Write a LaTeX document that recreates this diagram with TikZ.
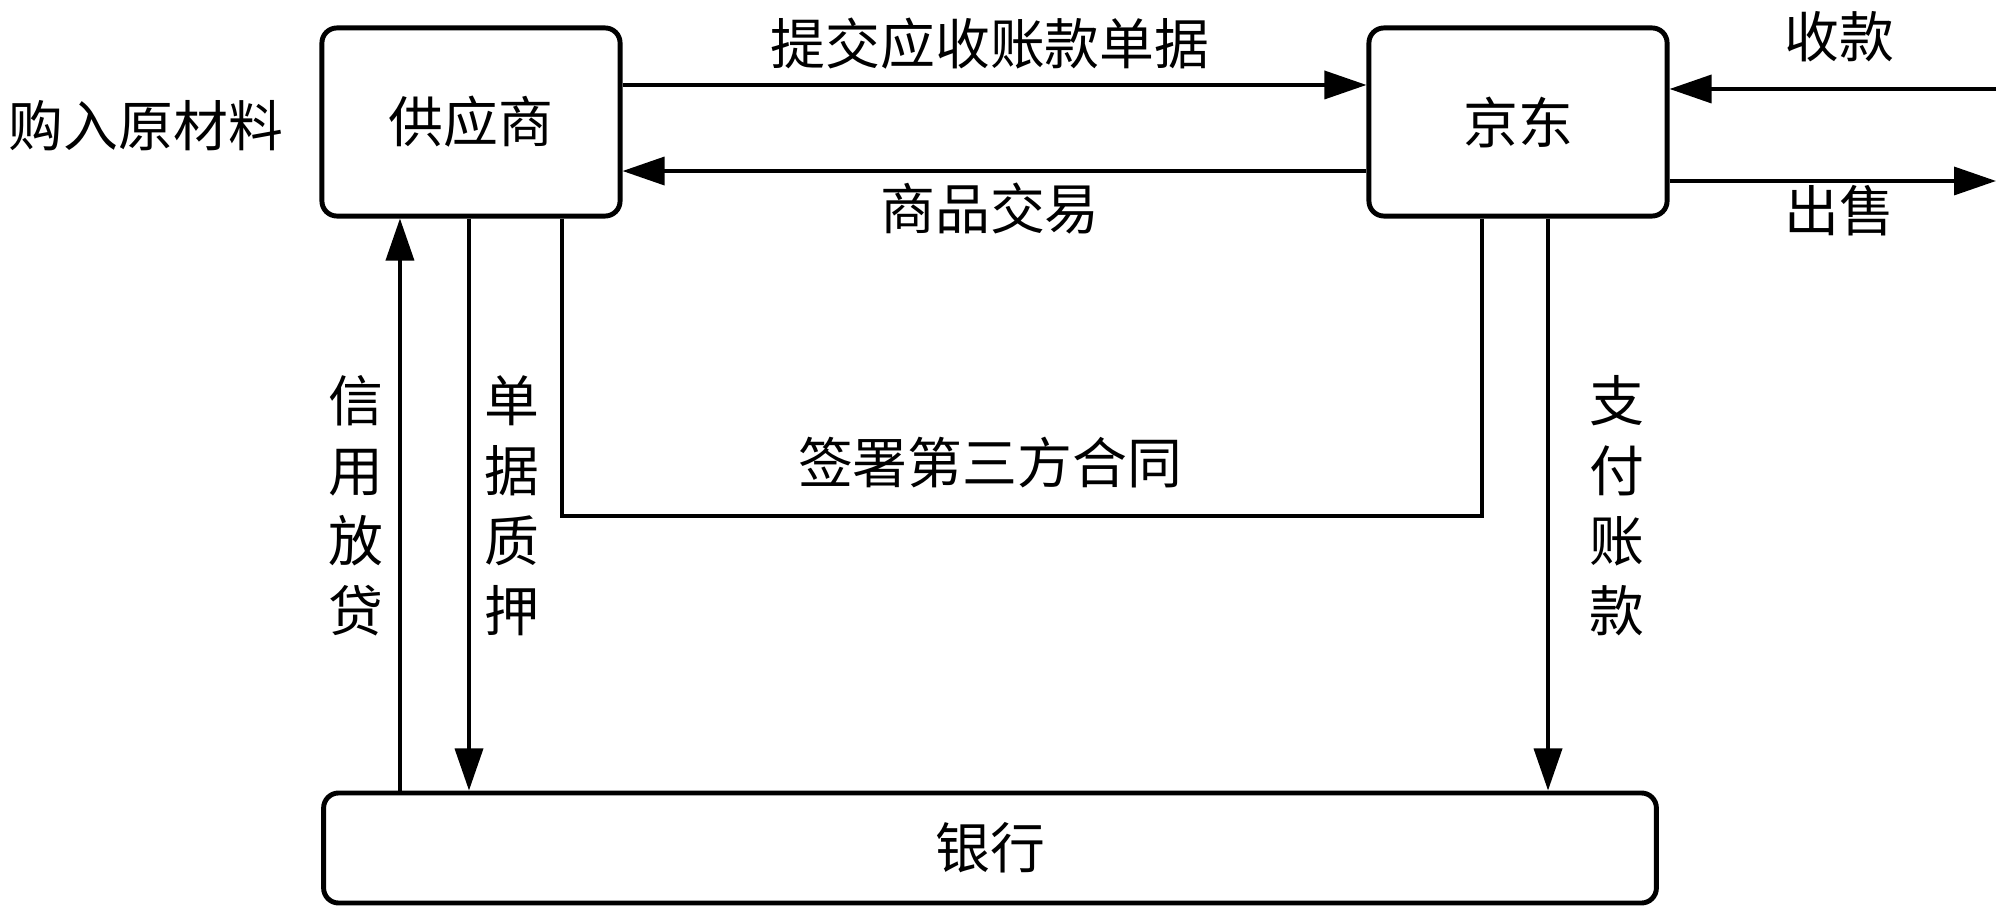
\documentclass[tikz,border=0pt]{standalone}
\usepackage{fontspec}
\setmainfont{Noto Sans CJK SC}
\usetikzlibrary{positioning, arrows.meta}

\begin{document}
\begin{tikzpicture}[x=0.01cm, y=-0.01cm, font=\fontsize{15.6pt}{19.9pt}\selectfont,
  box/.style = {draw, line width=1.4pt, rounded corners=0.15cm, inner sep=0pt},
  link/.style = {line width=1pt},
  >={Triangle[length=0.42cm, width=0.28cm]}]
\useasboundingbox (0,0) rectangle (2000,913);

\node[box, minimum width=2.98cm, minimum height=1.88cm] (sup) at (471,122) {供应商};
\node[box, minimum width=2.98cm, minimum height=1.88cm] (jd) at (1518,122) {京东};
\node[box, minimum width=13.32cm, minimum height=1.1cm] (bank) at (990,848) {银行};

\node (buy) at (146,126) {购入原材料};
\node (submit) at (990,44) {提交应收账款单据};
\node (trade) at (990,209) {商品交易};
\node (sign) at (990,463) {签署第三方合同};
\node (recv) at (1839,37) {收款};
\node (sell) at (1839,211) {出售};
\node[align=center] (loan) at (356,506) {信\\用\\放\\贷};
\node[align=center] (pledge) at (512,506) {单\\据\\质\\押};
\node[align=center] (pay) at (1617,506) {支\\付\\账\\款};

\coordinate (in) at (1996,89);
\coordinate (out) at (1996,181);
\coordinate (corner) at (1482,516);

\draw[link, ->] ([yshift=0.37cm]sup.east) -- ([yshift=0.37cm]sup.east -| jd.west);
\draw[link, ->] ([yshift=-0.49cm]jd.west) -- ([yshift=-0.49cm]jd.west -| sup.east);
\draw[link, ->] (in) -- (in -| jd.east);
\draw[link, ->] (out -| jd.east) -- (out);

\draw[link, ->] ([xshift=-0.71cm]sup.south |- bank.north) -- ([xshift=-0.71cm]sup.south);
\draw[link, ->] ([xshift=-0.02cm]sup.south) -- ([xshift=-0.02cm]sup.south |- bank.north);
\draw[link] ([xshift=0.91cm]sup.south) |- (corner) -- (corner |- jd.south);
\draw[link, ->] ([xshift=0.30cm]jd.south) -- ([xshift=0.30cm]jd.south |- bank.north);
\end{tikzpicture}
\end{document}
